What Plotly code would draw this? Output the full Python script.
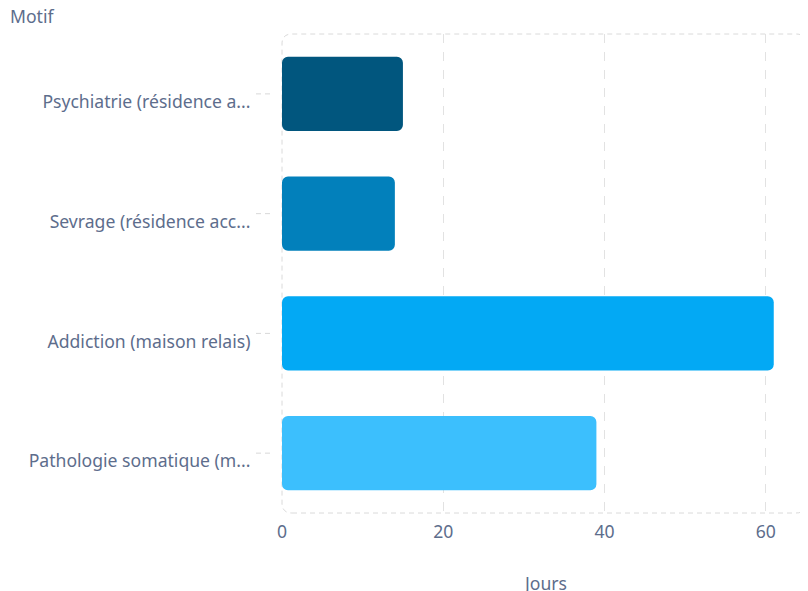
import plotly.graph_objects as go

categories = [
    "Psychiatrie (résidence a...",
    "Sevrage (résidence acc...",
    "Addiction (maison relais)",
    "Pathologie somatique (m...",
]
jours = [15, 14, 61, 39]
colors = ["#01567E", "#0280BB", "#03A9F4", "#3CBFFD"]
x_ticks = [0, 20, 40, 60]
x_title = "Jours"
y_title = "Motif"

# page body has an 8px margin, so the figure is drawn 8px in from the window edge
W, H = 800, 583
ML, MR, MT, MB = 274, 2, 26, 78
PW, PH = W - ML - MR, H - MT - MB
TXT = "#5d6d8c"
FONT = "Noto Sans"
FS = 17.6

# explicit base -> plotly rounds both ends of the bar
fig = go.Figure(go.Bar(
    y=categories, x=jours, base=[0] * len(jours),
    orientation="h", marker=dict(color=colors, line=dict(width=0)),
    hovertemplate="%{y}: %{x}<extra></extra>",
))

fig.update_layout(
    width=W, height=H,
    margin=dict(l=ML, r=MR, t=MT, b=MB),
    paper_bgcolor="white", plot_bgcolor="white",
    font=dict(family=FONT, size=FS, color=TXT),
    bargap=0.38,
    barcornerradius=6,
    showlegend=False,
)
fig.update_xaxes(
    range=[0, 65], tickvals=x_ticks, showgrid=True,
    gridcolor="#e2e2e2", griddash="dash", gridwidth=1,
    zeroline=False, showline=False,
    ticks="outside", ticklen=3, tickcolor="rgba(0,0,0,0)",
    tickfont=dict(family=FONT, size=FS, color=TXT),
)
fig.update_yaxes(
    categoryorder="array", categoryarray=categories, autorange="reversed",
    showgrid=False, zeroline=False, showline=False,
    ticks="outside", ticklen=27, tickcolor="rgba(0,0,0,0)",
    ticklabelshift=-8,
    tickfont=dict(family=FONT, size=FS, color=TXT),
)

# rounded dashed border of plot area
rx, ry = 10 / PW, 10 / PH
path = (f"M {rx},0 L {1-rx},0 Q 1,0 1,{ry} L 1,{1-ry} Q 1,1 {1-rx},1 "
        f"L {rx},1 Q 0,1 0,{1-ry} L 0,{ry} Q 0,0 {rx},0 Z")
shapes = [dict(type="path", path=path, xref="paper", yref="paper",
               line=dict(color="#dadada", width=1, dash="5px,4px"), layer="below")]
# dashed category ticks
for c in categories:
    shapes.append(dict(type="line", xref="paper", yref="y",
                       x0=-26 / PW, x1=-11 / PW, y0=c, y1=c,
                       line=dict(color="#d8d8d8", width=1, dash="5px,4px")))
fig.update_layout(shapes=shapes)

fig.add_annotation(text=y_title, xref="paper", yref="paper",
                   x=(0 - ML) / PW, y=1 + (MT - 8) / PH,
                   xanchor="left", yanchor="middle", showarrow=False,
                   font=dict(family=FONT, size=FS, color=TXT))
fig.add_annotation(text=x_title, xref="paper", yref="paper",
                   x=(537 - ML) / PW, y=-(575 - (H - MB)) / PH,
                   xanchor="center", yanchor="middle", showarrow=False,
                   font=dict(family=FONT, size=FS, color=TXT))

fig.write_html("out.html")
